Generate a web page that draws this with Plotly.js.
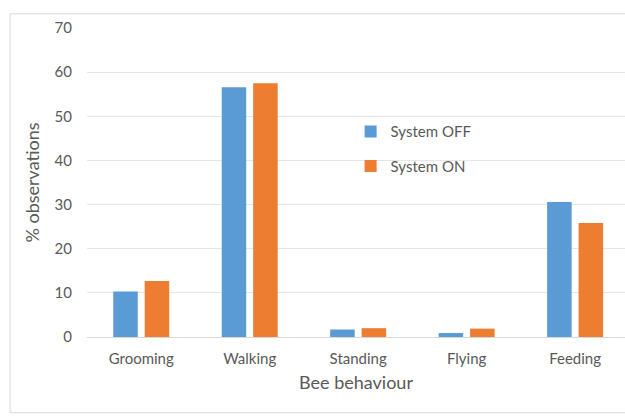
<!DOCTYPE html>
<html>
<head>
<meta charset="utf-8">
<script src="https://cdn.plot.ly/plotly-3.0.1.min.js"></script>
<style>html,body{margin:0;padding:0;background:#fff;}#chart{width:625px;height:417px;}</style>
</head>
<body>
<div id="chart"></div>
<script>
const categories = ["Grooming", "Walking", "Standing", "Flying", "Feeding"];
const systemOff = [10.3, 56.6, 1.7, 0.9, 30.6];
const systemOn = [12.7, 57.5, 2.0, 1.9, 25.8];
const yTicks = [0, 10, 20, 30, 40, 50, 60, 70];

const fontFam = "Lato, 'Open Sans', sans-serif";
const grey = "#595959";

const traces = [
  {type: "bar", name: "System OFF", x: categories, y: systemOff, marker: {color: "#5b9bd5"}, legendgroup: "a"},
  {type: "bar", name: "System ON", x: categories, y: systemOn, marker: {color: "#ed7d31"}, legendgroup: "b"}
];

const layout = {
  width: 625, height: 417,
  margin: {l: 87, r: 0, t: 28, b: 80},
  paper_bgcolor: "#fff", plot_bgcolor: "#fff",
  font: {family: fontFam, color: grey, size: 15},
  barmode: "group",
  bargap: 0.42,
  bargroupgap: 0.22,
  xaxis: {
    range: [-0.5, 4.46],
    showgrid: false, zeroline: false, showline: false,
    ticks: "", ticklabelstandoff: 11,
    tickfont: {size: 15, color: grey, family: fontFam},
    title: {text: "Bee behaviour", font: {size: 18, color: grey, family: fontFam}, standoff: 10}
  },
  yaxis: {
    range: [0, 70],
    tickvals: yTicks, ticktext: yTicks.map(String),
    showgrid: true, gridcolor: "#e6e6e6", gridwidth: 1,
    zeroline: true, zerolinecolor: "#d9d9d9", zerolinewidth: 1,
    showline: false, ticks: "", ticklabelstandoff: 14,
    tickfont: {size: 15, color: grey, family: fontFam},
    title: {text: "% observations", font: {size: 18, color: grey, family: fontFam}, standoff: 10}
  },
  legend: {
    x: 0.49, y: 0.718, xanchor: "left", yanchor: "top",
    bgcolor: "rgba(0,0,0,0)",
    font: {size: 15, color: grey, family: fontFam},
    tracegroupgap: 12,
    traceorder: "grouped"
  },
  shapes: [{
    type: "path", xref: "paper", yref: "paper",
    path: "M 1.2 1.046 L -0.143 1.046 L -0.143 -0.245 L 1.2 -0.245",
    line: {color: "#d9d9d9", width: 1}, layer: "below"
  }]
};

Plotly.newPlot("chart", traces, layout, {displayModeBar: false, staticPlot: true});
</script>
</body>
</html>
